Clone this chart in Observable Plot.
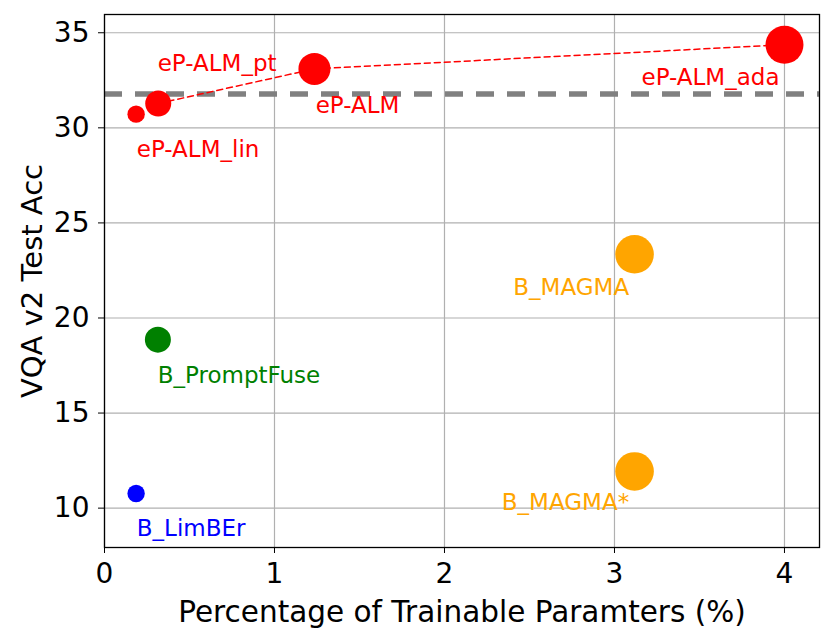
<!DOCTYPE html>
<html>
<head>
<meta charset="utf-8">
<script src="https://cdn.jsdelivr.net/npm/d3@7"></script>
<script src="https://cdn.jsdelivr.net/npm/@observablehq/plot@0.6"></script>
<style>
  html, body { margin: 0; padding: 0; background: white; }
  #chart svg { display: block; }
</style>
</head>
<body>
<div id="chart"></div>
<script>
// ---- data ----
const names = ["eP-ALM_lin", "eP-ALM_pt", "eP-ALM", "eP-ALM_ada", "B_MAGMA", "B_MAGMA*", "B_PromptFuse", "B_LimBEr"];
const params = [0.186, 0.316, 1.235, 4.0, 3.118, 3.118, 0.314, 0.186];   // % trainable params
const acc = [30.72, 31.28, 33.1, 34.37, 23.35, 11.93, 18.86, 10.77];     // VQA v2 test acc
const groups = ["ePALM", "ePALM", "ePALM", "ePALM", "MAGMA", "MAGMA", "PromptFuse", "LimBEr"];
const labelX = [0.19, 0.313, 1.242, 3.159, 2.405, 2.337, 0.313, 0.19];
const labelY = [28.44, 33.0, 30.8, 32.26, 21.2, 9.88, 16.58, 8.56];
const lineMembers = ["eP-ALM_pt", "eP-ALM", "eP-ALM_ada"];
const referenceAcc = 31.78;
const xTicks = [0, 1, 2, 3, 4];
const yTicks = [10, 15, 20, 25, 30, 35];

// ---- styles ----
const groupColor = {ePALM: "#ff0000", MAGMA: "#ffa500", PromptFuse: "#008000", LimBEr: "#0000ff"};
const markerRadius = [8.7, 13, 16, 19, 19.3, 19.3, 13, 8.7];

const rows = names.map((n, i) => ({
  name: n, x: params[i], y: acc[i], group: groups[i],
  lx: labelX[i], ly: labelY[i], r: markerRadius[i]
}));
const lineRows = rows.filter(d => lineMembers.includes(d.name));

const chart = Plot.plot({
  width: 831,
  height: 640,
  marginLeft: 104,
  marginRight: 12,
  marginTop: 14,
  marginBottom: 93,
  style: {fontFamily: "DejaVu Sans", background: "white", color: "black", overflow: "visible"},
  x: {domain: [0, 4.206]},
  y: {domain: [7.93, 35.96]},
  r: {type: "identity"},
  marks: [
    Plot.gridX(xTicks, {stroke: "#b0b0b0", strokeOpacity: 1, strokeWidth: 1.2}),
    Plot.gridY(yTicks, {stroke: "#b0b0b0", strokeOpacity: 1, strokeWidth: 1.2}),
    Plot.ruleY([referenceAcc], {stroke: "#808080", strokeWidth: 5.5, strokeDasharray: "18,13"}),
    Plot.line(lineRows, {x: "x", y: "y", stroke: "#ff0000", strokeWidth: 1.5, strokeDasharray: "6,4"}),
    Plot.dot(rows, {x: "x", y: "y", r: "r", fill: d => groupColor[d.group], stroke: "none"}),
    Plot.text(rows, {x: "lx", y: "ly", text: "name", fill: d => groupColor[d.group],
      fontSize: 23, textAnchor: "start", lineAnchor: "bottom"}),
    Plot.axisX(xTicks, {tickSize: 6, tickPadding: 10, fontSize: 28, label: null, stroke: "black", tickFormat: d3.format("d")}),
    Plot.axisY(yTicks, {tickSize: 6, tickPadding: 9, fontSize: 28, label: null, stroke: "black", tickFormat: d3.format("d")}),
    Plot.text(["Percentage of Trainable Paramters (%)"], {frameAnchor: "bottom", textAnchor: "middle", lineAnchor: "bottom", dy: 74, fontSize: 29.5, fill: "black"}),
    Plot.text(["VQA v2 Test Acc"], {frameAnchor: "left", textAnchor: "middle", lineAnchor: "middle", dx: -72, rotate: -90, fontSize: 29, fill: "black"}),
    Plot.frame({stroke: "black", strokeWidth: 1.3})
  ]
});
document.getElementById("chart").appendChild(chart);
</script>
</body>
</html>
